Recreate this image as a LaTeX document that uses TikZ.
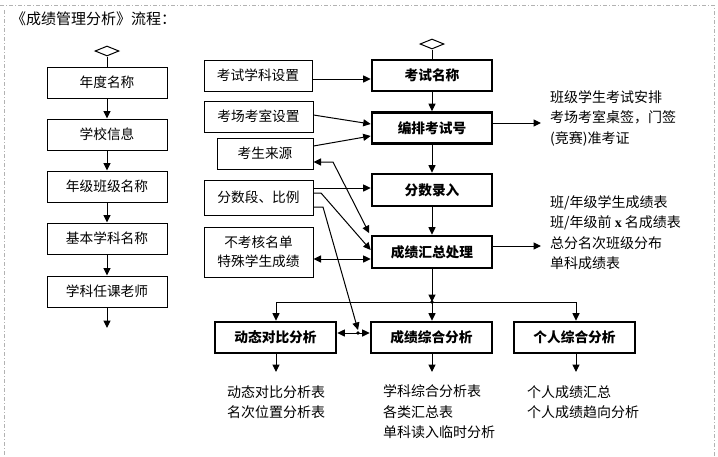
\documentclass[tikz,border=0pt]{standalone}
\usepackage{fontspec}
\setmainfont{Noto Sans CJK SC}
\newfontfamily\latinserif{Liberation Serif}
\usetikzlibrary{arrows.meta,shapes.geometric,calc}
\begin{document}
\begin{tikzpicture}[x=1pt,y=-1pt,
  >={Triangle[width=7pt,length=7.5pt]},
  thinbox/.style={draw,line width=1pt,minimum height=31pt,inner sep=0pt,font=\fontsize{13.7}{19}\selectfont},
  thickbox/.style={draw,line width=2.6pt,minimum height=31pt,inner sep=0pt,font=\fontsize{13.7}{16}\selectfont\bfseries},
  conn/.style={line width=1pt},
  outtext/.style={anchor=west,align=left,inner sep=0pt,font=\fontsize{14}{20.5}\selectfont},
  startmark/.style={diamond,draw,line width=1pt,minimum width=24pt,minimum height=10pt,inner sep=0pt},
  pageframe/.style={gray!60,line width=0.8pt,dash pattern=on 4pt off 2pt on 1pt off 2pt}
]
\useasboundingbox (0,0) rectangle (718,456);
\draw[pageframe] (0,5) -- (714,5) -- (714,456);
\draw[pageframe] (4.5,10) -- (4.5,456);

% title
\node[anchor=west,inner sep=0pt,font=\fontsize{15}{18}\selectfont] (title) at (11,19) {《成绩管理分析》流程：};

% left column
\node[startmark] (d1) at (107,51) {};
\node[thinbox,minimum width=120pt] (l1) at (107,82.5) {年度名称};
\node[thinbox,minimum width=120pt] (l2) at (107,134.5) {学校信息};
\node[thinbox,minimum width=120pt] (l3) at (107,186.5) {年级班级名称};
\node[thinbox,minimum width=120pt] (l4) at (107,238.5) {基本学科名称};
\node[thinbox,minimum width=120pt] (l5) at (107,291.5) {学科任课老师};
\coordinate (lend) at (107,328);
\draw[conn] (d1.south) -- (l1.north);
\draw[conn,->] (l1) -- (l2);
\draw[conn,->] (l2) -- (l3);
\draw[conn,->] (l3) -- (l4);
\draw[conn,->] (l4) -- (l5);
\draw[conn,->] (l5) -- (lend);

% main column
\node[startmark] (d2) at (432,44) {};
\node[thickbox,minimum width=120pt] (m1) at (432,75.5) {考试名称};
\node[thickbox,minimum width=120pt] (m2) at (432,128) {编排考试号};
\node[thickbox,minimum width=120pt,minimum height=32pt] (m3) at (432,190) {分数录入};
\node[thickbox,minimum width=120pt,minimum height=32pt] (m4) at (432,252) {成绩汇总处理};
\draw[conn] (d2.south) -- (m1.north);
\draw[conn,->] (m1) -- (m2);
\draw[conn,->] (m2) -- (m3);
\draw[conn,->] (m3) -- (m4);

% input boxes
\node[thinbox,minimum width=108pt] (i1) at (258,75.5) {考试学科设置};
\node[thinbox,minimum width=109pt] (i2) at (258.5,116.5) {考场考室设置};
\node[thinbox,minimum width=96pt] (i3) at (265,153.5) {考生来源};
\node[thinbox,minimum width=109pt,minimum height=35pt] (i4) at (258.5,197.5) {分数段、比例};
\node[thinbox,minimum width=109pt,minimum height=50pt,align=center] (i5) at (258.5,252) {不考核名单\\特殊学生成绩};

\draw[conn,->] (i1.east |- 0,79) -- (m1.west |- 0,79);
\draw[conn,->] (i2.east |- 0,115) -- (m2.west |- 0,124);
\draw[conn,->] (i3.east |- 0,146) -- (m2.west |- 0,136);
\draw[conn,->] (i4.east |- 0,188) -- (m3.west |- 0,188);
\draw[conn,->] (i4.east |- 0,193) -- (321,193) -- (m4.west |- 0,250);
\draw[conn,<->] (i3.east |- 0,162) -- (333,162) -- ($(m4.north west)+(-1.5,-1.5)$);
\draw[conn,<->] (i5.east |- 0,259) -- (m4.west |- 0,259);

% outputs on the right
\coordinate (o1) at (541,123);
\coordinate (o2) at (541,246);
\draw[conn,->] (m2.east |- o1) -- (o1);
\draw[conn,->] (m4.east |- o2) -- (o2);
\node[outtext] (t1) at (550,118) {班级学生考试安排\\考场考室桌签，门签\\(竞赛)准考证};
\node[outtext] (t2) at (550,232.5) {班/年级学生成绩表\\班/年级前 {\latinserif\bfseries x} 名成绩表\\总分名次班级分布\\单科成绩表};

% bottom analysis boxes
\coordinate (jc) at (432,302);
\node[thickbox,minimum width=121pt] (b1) at (275.5,337.5) {动态对比分析};
\node[thickbox,minimum width=121pt] (b2) at (431.5,337.5) {成绩综合分析};
\node[thickbox,minimum width=121pt] (b3) at (574.5,337.5) {个人综合分析};
\coordinate (jl) at (276,302);
\coordinate (jr) at (576,302);
\draw[conn,->] (m4.south) -- (jc);
\draw[conn] (jl) -- (jr);
\fill (jc) circle (1.8pt);
\draw[conn,->] (jl) -- (jl |- b1.north);
\draw[conn,->] (jc) -- (jc |- b2.north);
\draw[conn,->] (jr) -- (jr |- b3.north);

\coordinate (jm) at (358,333);
\draw[conn,<->] (b1.east |- jm) -- (b2.west |- jm);
\fill (jm) circle (1.8pt);
\draw[conn,->] (i4.east |- 0,207) -- (323,207) -- (358,330);

% bottom outputs
\coordinate (e1) at (276,372);
\coordinate (e2) at (432,372);
\coordinate (e3) at (576,372);
\draw[conn,->] (b1.south -| e1) -- (e1);
\draw[conn,->] (b2.south -| e2) -- (e2);
\draw[conn,->] (b3.south -| e3) -- (e3);
\node[outtext] (u1) at (227,402) {动态对比分析表\\名次位置分析表};
\node[outtext] (u2) at (383,412) {学科综合分析表\\各类汇总表\\单科读入临时分析};
\node[outtext] (u3) at (527,402) {个人成绩汇总\\个人成绩趋向分析};
\end{tikzpicture}
\end{document}
